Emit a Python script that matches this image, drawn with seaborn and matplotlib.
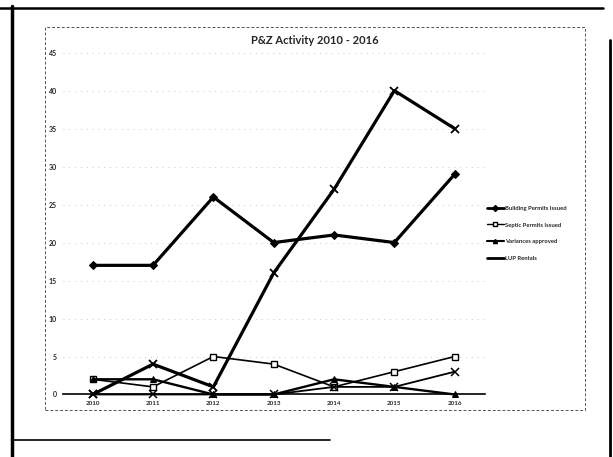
import matplotlib
matplotlib.use("Agg")
import matplotlib.pyplot as plt
import seaborn as sns
import pandas as pd
from matplotlib.lines import Line2D

years = ["2010", "2011", "2012", "2013", "2014", "2015", "2016"]
building_permits = [17, 17, 26, 20, 21, 20, 29]
septic_permits = [2, 1, 5, 4, 1, 3, 5]
variances = [2, 2, 0, 0, 2, 1, 0]
lup_rentals = [0, 4, 1, 16, 27, 40, 35]
other_series = [0, 0, 0, 0, 1, 1, 3]
legend_labels = ["Building Permits Issued", "Septic Permits Issued",
                 "Variances approved", "LUP Rentals"]
title = "P&Z Activity 2010 - 2016"
y_ticks = list(range(0, 50, 5))

sns.set_theme(style="white")
plt.rcParams['font.family'] = ['Lato', 'DejaVu Sans']

fig = plt.figure(figsize=(6.13, 4.57), dpi=100)
ax = fig.add_axes([0.102, 0.1368, 0.689, 0.748])

idx = list(range(len(years)))
series = [
    (building_permits, dict(lw=2.3, marker="D", ms=4.5, mfc="black", mec="black")),
    (septic_permits, dict(lw=1.2, marker="s", ms=5, mfc="white", mec="black", mew=1.0)),
    (variances, dict(lw=1.7, marker="^", ms=5, mfc="black", mec="black")),
    (lup_rentals, dict(lw=2.3, marker="x", ms=6, mec="black", mew=1.3)),
    (other_series, dict(lw=1.3, marker="x", ms=6, mec="black", mew=1.1)),
]
for vals, kw in series:
    df = pd.DataFrame({"x": idx, "y": vals})
    sns.lineplot(data=df, x="x", y="y", ax=ax, color="black", legend=False,
                 clip_on=False, zorder=3, **kw)

ax.set_xlim(-0.5, 6.5)
ax.set_ylim(0, 45)
ax.set_yticks(y_ticks)
ax.set_yticklabels([str(t) for t in y_ticks], fontsize=5, fontweight="bold")
ax.set_xticks(idx)
ax.set_xticklabels(years, fontsize=4.5, fontweight="bold")
ax.tick_params(axis="x", length=0, pad=5)
ax.tick_params(axis="y", length=0, pad=4)
ax.set_xlabel("")
ax.set_ylabel("")
for s in ["top", "right", "left"]:
    ax.spines[s].set_visible(False)
ax.spines["bottom"].set_color("black")
ax.spines["bottom"].set_linewidth(1.2)
ax.set_axisbelow(True)
ax.yaxis.grid(True, color="#888888", linestyle=(0, (1, 6)), linewidth=0.6, alpha=0.6)
ax.xaxis.grid(False)
ax.set_facecolor("none")

fig.text(0.514, 0.912, title, ha="center", va="center", fontsize=8, fontweight="bold")

handles = [
    Line2D([], [], color="black", lw=2.0, marker="D", ms=3, mfc="black"),
    Line2D([], [], color="black", lw=1.0, marker="s", ms=3, mfc="white", mec="black"),
    Line2D([], [], color="black", lw=1.5, marker="^", ms=3, mfc="black"),
    Line2D([], [], color="black", lw=2.0),
]
leg = fig.legend(handles, legend_labels, loc="upper left", bbox_to_anchor=(0.79, 0.555),
                 fontsize=4.2, frameon=False, handlelength=3.0, handletextpad=0.1,
                 labelspacing=2.0, borderaxespad=0)
for t in leg.get_texts():
    t.set_fontweight("bold")

# chart area (dashed) and page border
W, H = 613.0, 457.0
def fx(x): return x / W
def fy(y): return 1 - y / H
fig.add_artist(plt.Rectangle((fx(45), fy(410)), fx(585) - fx(45), fy(27) - fy(410),
                             transform=fig.transFigure, fill=False, lw=0.7,
                             ec="#555555", ls=(0, (3, 2))))
fig.add_artist(Line2D([fx(12), fx(12)], [0, fy(6)], transform=fig.transFigure, color="black", lw=2.5))
fig.add_artist(Line2D([fx(0), fx(603)], [fy(8), fy(8)], transform=fig.transFigure, color="black", lw=1.8))
fig.add_artist(Line2D([fx(610), fx(610)], [fy(40), 0], transform=fig.transFigure, color="black", lw=2.0))
fig.add_artist(Line2D([fx(12), fx(330)], [fy(440), fy(440)], transform=fig.transFigure, color="black", lw=1.2))

fig.savefig("out.png", dpi=100)
